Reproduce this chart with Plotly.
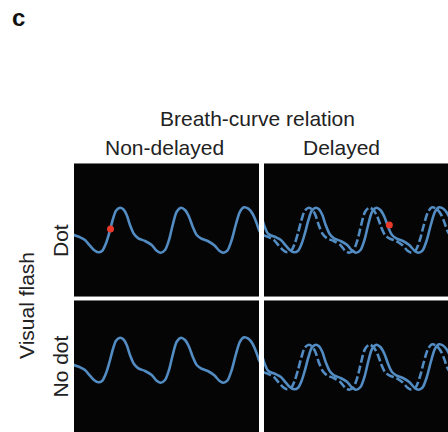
import plotly.graph_objects as go

W, H = 448, 432

# Breath curve (time in frames, amplitude in arbitrary units)
breath_t = [-16, -9.3, -6, -2.5, 0, 6, 11, 16, 20, 24.3, 28.3, 32, 35.3, 38.7, 42, 46, 49.3, 52.7,
            56, 60, 64.3, 71, 77.7, 82.7, 86.7, 91, 95, 98.7, 102.7, 107, 111, 115, 118.7,
            122.7, 127, 133.7, 140.3, 145.3, 149.3, 153.3, 157.7, 161.7, 166, 170, 174.3,
            178.7, 182.7, 185.3, 189, 194]
breath_amp = [88.3, 81, 71, 63, 61, 58.7, 56, 50.3, 46, 43.7, 45.3, 52.7, 63.3, 76, 85.3, 88.3, 86.7, 81,
              71, 62, 57.7, 55, 51, 45.3, 43.3, 46, 56, 71, 84.3, 88.3, 86, 79.3, 69.3,
              61, 57.7, 55, 50.7, 45.3, 43.3, 45.3, 56, 71, 84.3, 88.7, 87.3,
              82, 72.7, 65.3, 60, 57]

# Delay of the curves in the "Delayed" condition (frames)
lead_shift = -1
lag_shift = 6

# Flash dot positions
dot_nondelayed = (36.5, 67)
dot_delayed = (126, 71)

col_labels = ["Non-delayed", "Delayed"]
row_labels = ["Dot", "No dot"]

LINE = "#528cc2"
RED = "#e8392b"
FONT = "Liberation Sans, Arial, sans-serif"
TXT = "#222222"
LW = 2.6

def px_x(x0, x1):
    return [x0 / W, x1 / W]

def px_y(y0, y1):
    return [max(0, 1 - y1 / H), 1 - y0 / H]

panels = [
    dict(xd=px_x(74, 259), yd=px_y(164, 296), yr=[0, 132], delayed=False, dot=dot_nondelayed),
    dict(xd=px_x(264, 448), yd=px_y(164, 296), yr=[0, 132], delayed=True, dot=dot_delayed),
    dict(xd=px_x(74, 259), yd=px_y(301, 432), yr=[-6, 125], delayed=False, dot=None),
    dict(xd=px_x(264, 448), yd=px_y(301, 432), yr=[1, 132], delayed=True, dot=None),
]

fig = go.Figure()
layout = dict(
    width=W, height=H, margin=dict(l=0, r=0, t=0, b=0),
    paper_bgcolor="white", plot_bgcolor="#050505", showlegend=False,
)

for i, p in enumerate(panels):
    k = "" if i == 0 else str(i + 1)
    xa, ya = "x" + k, "y" + k
    if p["delayed"]:
        fig.add_trace(go.Scatter(x=[t + lead_shift for t in breath_t], y=breath_amp, mode="lines",
                                 line=dict(color=LINE, width=LW, dash="8px,3px", shape="spline", smoothing=0.8),
                                 xaxis=xa, yaxis=ya, hoverinfo="skip"))
        fig.add_trace(go.Scatter(x=[t + lag_shift for t in breath_t], y=breath_amp, mode="lines",
                                 line=dict(color=LINE, width=LW, shape="spline", smoothing=0.8),
                                 xaxis=xa, yaxis=ya, hoverinfo="skip"))
    else:
        fig.add_trace(go.Scatter(x=breath_t, y=breath_amp, mode="lines",
                                 line=dict(color=LINE, width=LW, shape="spline", smoothing=0.8),
                                 xaxis=xa, yaxis=ya, hoverinfo="skip"))
    if p["dot"] is not None:
        fig.add_trace(go.Scatter(x=[p["dot"][0]], y=[p["dot"][1]], mode="markers",
                                 marker=dict(color=RED, size=7), xaxis=xa, yaxis=ya, hoverinfo="skip"))
    layout["xaxis" + k] = dict(domain=p["xd"], range=[0, 185], visible=True, showticklabels=False,
                               showgrid=False, zeroline=False, ticks="", showline=True, mirror=True,
                               linecolor="#7a7a7a", linewidth=1, anchor=ya, fixedrange=True)
    layout["yaxis" + k] = dict(domain=p["yd"], range=p["yr"], showticklabels=False, showgrid=False,
                               zeroline=False, ticks="", showline=False, anchor=xa, fixedrange=True)

def ann(text, x, y, size=21, angle=0, bold=False):
    return dict(text=f"<b>{text}</b>" if bold else text, x=x / W, y=1 - y / H, xref="paper", yref="paper",
                xanchor="center", yanchor="middle", showarrow=False, textangle=angle,
                font=dict(family=FONT, size=size, color=TXT if not bold else "#111"))

layout["annotations"] = [
    ann("c", 18, 17, size=24, bold=True),
    ann("Breath-curve relation", 257.7, 118),
    ann(col_labels[0], 164.5, 147),
    ann(col_labels[1], 341.7, 147),
    ann("Visual flash", 26, 306, angle=-90),
    ann(row_labels[0], 60, 241, angle=-90),
    ann(row_labels[1], 60, 366.5, angle=-90),
]

fig.update_layout(**layout)
fig.write_html("out.html")
